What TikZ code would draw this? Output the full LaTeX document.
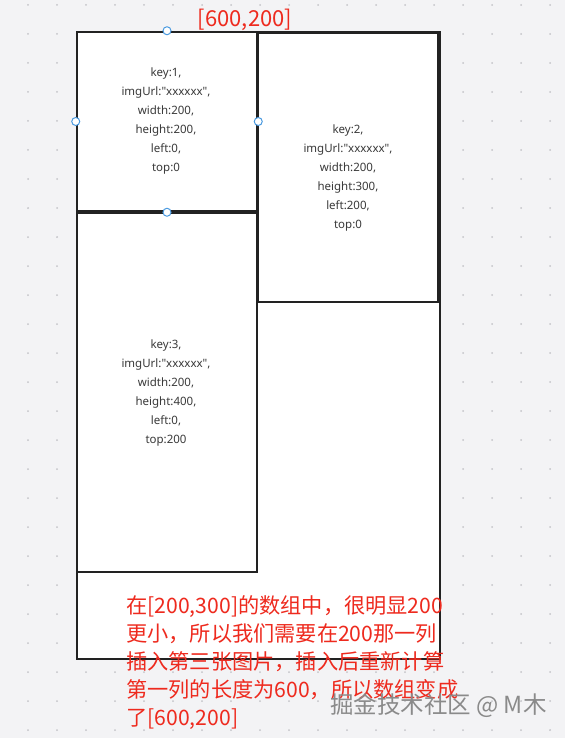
\documentclass[tikz,border=0pt]{standalone}
\usepackage{fontspec}
\setmainfont{Noto Sans CJK SC}
\newfontfamily\latinfont{Noto Sans}
\definecolor{bgGray}{HTML}{F3F3F5}
\definecolor{dotGray}{HTML}{C4C4C8}
\definecolor{lineDark}{HTML}{222222}
\definecolor{txtGray}{HTML}{3A3A3A}
\definecolor{noteRed}{HTML}{EE2A1E}
\definecolor{handleBlue}{HTML}{4A9AE0}
\definecolor{markGray}{HTML}{8A8A8A}
\begin{document}
\begin{tikzpicture}[x=1pt, y=-1pt,
    panel/.style={draw=lineDark, line width=2.2pt, fill=white, rectangle, inner sep=0pt},
    card/.style={draw=lineDark, line width=2.5pt, fill=white, rectangle, inner sep=0pt},
    info/.style={text=txtGray, align=center, font=\latinfont\fontsize{11.5}{19}\selectfont, inner sep=0pt},
    handle/.style={draw=handleBlue, fill=white, circle, line width=1pt, minimum size=8pt, inner sep=0pt},
    note/.style={text=noteRed, font=\fontsize{21.2}{28}\selectfont, inner sep=0pt}]
    \useasboundingbox (0,0) rectangle (565,738);
    \fill[bgGray] (0,0) rectangle (565,738);

    % Griglia di punti
    \foreach \gx in {28,57,...,550}
        \foreach \gy in {5,34,...,735}
            \fill[dotGray] (\gx,\gy) circle (1pt);

    % Contenitore
    \node[panel, minimum width=363pt, minimum height=627pt] (outer) at (258.5,345.5) {};

    % Immagini
    \node[card, minimum width=180pt, minimum height=269pt] (card2) at (348,167.5) {};
    \node[card, minimum width=180pt, minimum height=179pt] (card1) at (167,121.5) {};
    \node[card, minimum width=180pt, minimum height=359pt] (card3) at (167,392.5) {};

    \node[info] (info1) at (166,121) {key:1,\\imgUrl:"xxxxxx",\\width:200,\\height:200,\\left:0,\\top:0};
    \node[info] (info2) at (348,178) {key:2,\\imgUrl:"xxxxxx",\\width:200,\\height:300,\\left:200,\\top:0};
    \node[info] (info3) at (166,393) {key:3,\\imgUrl:"xxxxxx",\\width:200,\\height:400,\\left:0,\\top:200};

    % Maniglie di selezione
    \node[handle] (h1) at (card1.north) {};
    \node[handle] (h2) at (card1.west) {};
    \node[handle] (h3) at (card1.east) {};
    \node[handle] (h4) at (card1.south) {};

    % Note in rosso
    \node[note, font=\fontsize{22}{26}\selectfont] (heights) at (245,20) {[600,200]};
    \node[note, anchor=north west, align=left] (explain) at (126,595) {在[200,300]的数组中，很明显200\\更小，所以我们需要在200那一列\\插入第三张图片，插入后重新计算\\第一列的长度为600，所以数组变成\\了[600,200]};

    % Filigrana
    \node[text=markGray, font=\fontsize{23.5}{26}\selectfont, anchor=west, inner sep=0pt] (mark) at (330,706) {掘金技术社区 @ M木};
\end{tikzpicture}
\end{document}
